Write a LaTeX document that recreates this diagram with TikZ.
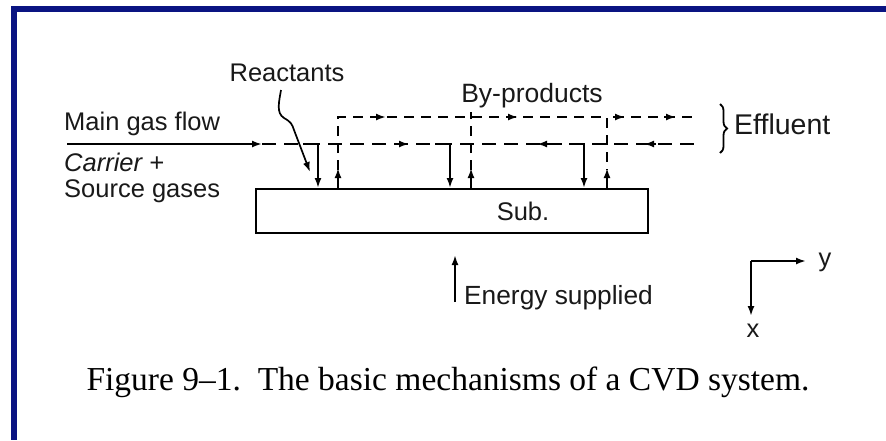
\documentclass[tikz,border=0pt]{standalone}
\usepackage{fontspec}
\setmainfont{Liberation Serif}
\newfontfamily\labfont{Liberation Sans}
\usetikzlibrary{arrows.meta,decorations.pathreplacing}
\definecolor{framebl}{RGB}{10,20,130}
\begin{document}
\begin{tikzpicture}[x=1pt,y=-1pt,
  lbl/.style={font=\labfont\fontsize{25.5}{30}\selectfont, inner sep=0pt, text=black!90},
  ln/.style={line width=2.1pt},
  dsh/.style={line width=2pt, dash pattern=on 14pt off 8pt},
  dshu/.style={line width=2pt, dash pattern=on 10pt off 7pt},
  ah/.style={-{Latex[length=10pt,width=7pt]}},
]
\useasboundingbox (0,0) rectangle (886,440);
\fill[white] (0,0) rectangle (886,440);
\fill[framebl] (11,6) rectangle (886,12);
\fill[framebl] (11,6) rectangle (17,440);

% labels
\node[lbl,anchor=base west] (main) at (64,130) {Main gas flow};
\node[lbl,anchor=base west,font=\labfont\itshape\fontsize{25.5}{30}\selectfont] (carrier) at (64,171) {Carrier +};
\node[lbl,anchor=base west] (source) at (64,197) {Source gases};
\node[lbl,anchor=base] (react) at (287,81) {Reactants};
\node[lbl,anchor=base,font=\labfont\fontsize{26.5}{30}\selectfont] (byp) at (532,102) {By-products};
\node[lbl,anchor=base west,font=\labfont\fontsize{28.5}{30}\selectfont] (eff) at (734,134) {Effluent};
\node[draw, line width=2pt, minimum width=392pt, minimum height=44pt, anchor=north west, inner sep=0pt] (sub) at (255,188) {};
\node[lbl,anchor=base] (subl) at (523,220) {Sub.};
\node[lbl,anchor=base west,font=\labfont\fontsize{26.3}{30}\selectfont] (energy) at (464,304) {Energy supplied};
\node[lbl,anchor=base] (ylab) at (825,266) {y};
\node[lbl,anchor=base] (xlab) at (753,337) {x};
\node[font=\fontsize{33.5}{38}\selectfont, anchor=base, inner sep=0pt] (cap) at (448,390) {Figure 9--1.\ \ The basic mechanisms of a CVD system.};

% main gas flow
\coordinate (gin) at (67,144);
\coordinate (gend) at (262,144);
\draw[ln,ah] (gin) -- (gend);
\draw[dsh] (gend) -- (698,144);

% reactant arrows (solid, down)
\foreach \xx in {318,450,584}{
  \draw[ln,ah] (\xx-15,144) -| (\xx,0 |- sub.north);
}
% by-product arrows (dashed, up)
\foreach \xx in {338,471,607}{
  \draw[ln,ah] (\xx,0 |- sub.north) -- (\xx,168);
}
\draw[dshu] (338,170) |- (607,117) -- (607,170);
\draw[dshu] (471,170) -- (471,112);
\draw[dshu] (614,117) -- (698,117);

% flow arrowheads on dashed lines
\foreach \xx in {382,514,621,672}{
  \draw[ln,ah] (\xx-8,117) -- (\xx+4,117);
}
\draw[ln,ah] (397,144) -- (409,144);
\foreach \xx in {541,648}{
  \draw[ln,ah] (\xx+8,144) -- (\xx-4,144);
}

% reactants pointer
\draw[line width=1.7pt,ah] (281,90) .. controls (279,102) and (276,113) .. (284,118) .. controls (291,122) and (292,124) .. (294,130) -- (310,172);

% effluent brace
\draw[line width=1.8pt, decorate, decoration={brace, amplitude=7pt}] (720,104) -- (720,153);

% energy
\coordinate (e0) at (455,302);
\coordinate (e1) at (455,255);
\draw[ln,ah] (e0) -- (e1);

% axes
\coordinate (ax) at (751,261);
\draw[ln,ah] (ax) -- (806,261);
\draw[ln,ah] (ax) -- (751,316);
\end{tikzpicture}
\end{document}
